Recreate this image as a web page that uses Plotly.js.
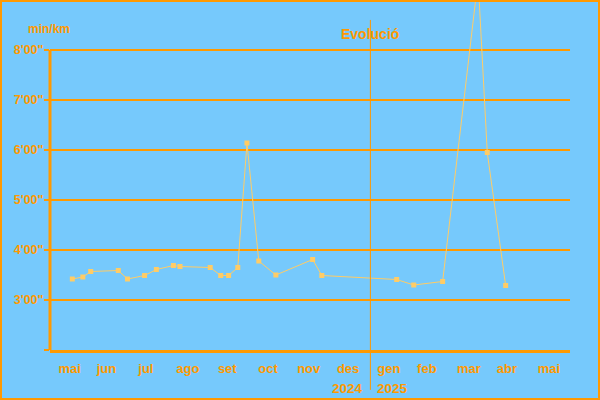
<!DOCTYPE html>
<html>
<head>
<meta charset="utf-8">
<script src="https://cdn.plot.ly/plotly-3.0.1.min.js"></script>
<style>
  html, body { margin: 0; padding: 0; background: #76C9FC; }
  #wrap { position: relative; width: 600px; height: 400px; }
  #chart { width: 600px; height: 400px; }
  #frame { position: absolute; left: 0; top: 0; width: 600px; height: 400px; box-sizing: border-box; border: 2px solid #FF9900; pointer-events: none; }
</style>
</head>
<body>
<div id="wrap"><div id="chart"></div><div id="frame"></div></div>
<script>
// Data (pace in minutes per km)
var dates = ['2024-05-18','2024-05-26','2024-06-01','2024-06-22','2024-06-29','2024-07-12','2024-07-21','2024-08-03','2024-08-08','2024-08-31','2024-09-08','2024-09-14','2024-09-21','2024-09-28','2024-10-07','2024-10-20','2024-11-17','2024-11-24','2025-01-20','2025-02-02','2025-02-24','2025-03-23','2025-03-30','2025-04-13'];
var pace = [3.42,3.46,3.57,3.59,3.42,3.49,3.61,3.69,3.67,3.65,3.49,3.49,3.65,6.14,3.78,3.50,3.81,3.49,3.41,3.30,3.37,9.42,5.95,3.29];

var monthTickVals = ['2024-05-16','2024-06-13','2024-07-13','2024-08-14','2024-09-13','2024-10-14','2024-11-14','2024-12-14','2025-01-14','2025-02-12','2025-03-16','2025-04-14','2025-05-16'];
var monthTickText = ['mai','jun','jul','ago','set','oct','nov','des','gen','feb','mar','abr','mai'];

var paceTickVals = [2,3,4,5,6,7,8];
var paceTickText = ['', "3'00\"", "4'00\"", "5'00\"", "6'00\"", "7'00\"", "8'00\""];

var yearBoundary = '2024-12-31';
var yearLeft = '2024', yearRight = '2025';

var ORANGE = '#FF9900';
var BG = '#76C9FC';
var LINE = '#FFCC66';
var FONT = 'Liberation Sans, Arial, sans-serif';

var trace = {
  x: dates, y: pace, type: 'scatter', mode: 'lines+markers',
  line: { color: LINE, width: 1 },
  marker: { symbol: 'square', size: 5, color: LINE },
  hoverinfo: 'skip'
};

var layout = {
  width: 600, height: 400,
  margin: { l: 50, r: 30, t: 0, b: 50 },
  paper_bgcolor: BG, plot_bgcolor: BG,
  showlegend: false,
  font: { family: FONT, color: ORANGE },
  xaxis: {
    type: 'date', range: ['2024-05-01', '2025-06-01'],
    tickmode: 'array', tickvals: monthTickVals, ticktext: monthTickText,
    ticks: '', showgrid: false, zeroline: false,
    showline: true, linecolor: ORANGE, linewidth: 3,
    ticklabelstandoff: 4,
    tickfont: { family: FONT, size: 13, color: ORANGE, weight: 'bold' },
    fixedrange: true
  },
  yaxis: {
    range: [2, 9],
    tickmode: 'array', tickvals: paceTickVals, ticktext: paceTickText,
    ticks: 'outside', ticklen: 5, tickwidth: 2, tickcolor: ORANGE,
    showgrid: true, gridcolor: ORANGE, gridwidth: 1.5,
    zeroline: false, showline: false,
    ticklabelstandoff: -2,
    tickfont: { family: FONT, size: 12.5, color: ORANGE, weight: 'bold' },
    fixedrange: true
  },
  shapes: [
    { type: 'line', xref: 'paper', yref: 'y', x0: 0, x1: 0, y0: 2, y1: 8,
      line: { color: ORANGE, width: 3 } },
    { type: 'line', xref: 'x', yref: 'paper', x0: yearBoundary, x1: yearBoundary, y0: -0.114, y1: 0.943,
      line: { color: ORANGE, width: 1 } }
  ],
  annotations: [
    { text: 'Evolució', xref: 'x', yref: 'paper', x: yearBoundary, y: (350-34)/350, xanchor: 'center', yanchor: 'middle',
      showarrow: false, font: { family: FONT, size: 14, color: ORANGE, weight: 'bold' } },
    { text: 'min/km', xref: 'paper', yref: 'paper', x: (49-50)/520, y: (350-29)/350, xanchor: 'center', yanchor: 'middle',
      showarrow: false, font: { family: FONT, size: 12, color: ORANGE, weight: 'bold' } },
    { text: yearLeft, xref: 'x', yref: 'paper', x: yearBoundary, y: (350-388)/350, xanchor: 'right', yanchor: 'middle', xshift: -5,
      showarrow: false, font: { family: FONT, size: 13.5, color: ORANGE, weight: 'bold' } },
    { text: yearRight, xref: 'x', yref: 'paper', x: yearBoundary, y: (350-388)/350, xanchor: 'left', yanchor: 'middle', xshift: 5,
      showarrow: false, font: { family: FONT, size: 13.5, color: ORANGE, weight: 'bold' } }
  ]
};

Plotly.newPlot('chart', [trace], layout, { displayModeBar: false, staticPlot: true });
</script>
</body>
</html>
